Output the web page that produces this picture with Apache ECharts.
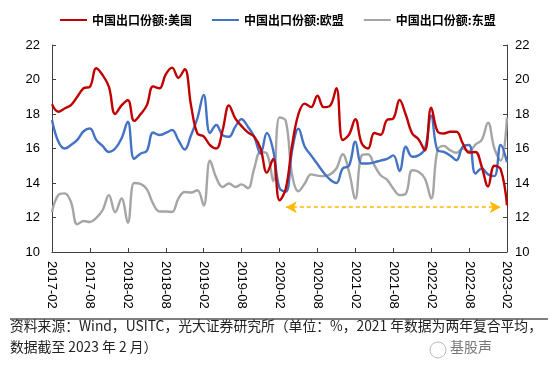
<!DOCTYPE html>
<html><head><meta charset="utf-8">
<script src="https://cdn.jsdelivr.net/npm/echarts@6/dist/echarts.min.js"></script>
<style>html,body{margin:0;padding:0;background:#fff}#c{width:554px;height:367px}</style>
</head><body><div id="c"></div>
<script>
// months 2017-02 .. 2023-02
const months = [];
for (let y = 2017; y <= 2023; y++) for (let m = 1; m <= 12; m++) {
  if ((y === 2017 && m < 2) || (y === 2023 && m > 2)) continue;
  months.push(y + '-' + String(m).padStart(2, '0'));
}
const seriesNames = ['中国出口份额:美国', '中国出口份额:欧盟', '中国出口份额:东盟'];
const usShare = [18.56,18.13,18.32,18.52,19.0,19.49,19.58,20.65,20.26,19.58,
  18.0,18.5,18.8,17.6,17.98,18.5,19.6,19.49,20.3,20.69,
  20.1,20.6,18.5,16.87,16.7,16.2,16.0,17.07,18.5,17.74,
  17.3,16.93,16.68,16.0,14.6,15.4,13.0,13.68,16.2,18.0,
  18.6,18.4,19.06,18.4,18.48,19.49,16.49,16.8,17.7,16.3,
  16.0,16.9,16.8,17.65,17.74,18.81,17.94,16.87,16.54,15.9,
  18.36,17.0,16.87,16.97,16.97,16.3,15.77,15.8,14.94,13.8,
  15.0,14.8,12.7];
const euShare = [17.65,16.4,16.0,16.2,16.5,17.0,17.16,16.5,16.15,15.8,
  16.0,16.58,17.55,15.4,15.7,15.86,16.93,16.78,16.9,17.07,
  16.49,15.94,16.77,17.74,19.1,16.9,17.36,16.77,16.68,17.26,
  17.7,17.26,16.68,15.7,16.9,15.9,13.7,13.5,15.9,17.15,
  16.1,15.6,15.1,14.6,14.2,14.0,14.84,15.0,16.4,15.13,
  15.13,15.2,15.3,15.4,15.6,14.7,16.1,15.52,15.6,15.96,
  17.9,15.9,15.8,15.6,15.32,16.1,16.2,14.55,14.84,14.5,
  14.4,16.2,15.2];
const aseanShare = [12.32,13.3,13.4,12.9,11.6,11.8,11.74,11.98,12.42,13.3,
  12.3,13.1,11.7,14.0,13.95,13.65,12.8,12.35,12.35,12.32,
  13.1,13.48,13.45,13.58,12.7,15.3,14.3,13.77,13.97,13.77,
  13.92,13.7,14.84,15.8,15.7,14.1,17.8,17.6,14.45,13.52,
  13.97,14.5,14.43,14.4,14.5,14.84,15.67,14.65,13.1,15.6,
  15.67,15.03,14.45,14.2,13.68,13.3,13.39,14.74,14.65,14.26,
  13.1,15.9,16.15,15.9,15.75,16.0,15.84,16.23,16.5,17.5,
  16.0,15.3,17.8];
const yTicks = [10, 12, 14, 16, 18, 20, 22];
const arrowStart = '2020-03', arrowEnd = '2023-01', arrowLevel = 12.6;
const sourceLines = ['资料来源：Wind，USITC，光大证券研究所（单位：%，2021 年数据为两年复合平均，', '数据截至 2023 年 2 月）'];
const watermark = '基股声';

const colors = ['#C00000', '#4472C4', '#A5A5A5'];
const chart = echarts.init(document.getElementById('c'), null, {renderer: 'canvas'});
const axisCommon = {
  type: 'value', min: yTicks[0], max: yTicks[yTicks.length - 1], interval: yTicks[1] - yTicks[0],
  axisLine: {show: true, lineStyle: {color: '#404040', width: 1}},
  axisTick: {show: true, inside: true, length: 4, lineStyle: {color: '#404040'}},
  splitLine: {show: false},
  axisLabel: {color: '#000', fontSize: 13, fontFamily: 'Liberation Sans'}
};
const mk = (name, data, color, extra) => Object.assign({
  name, type: 'line', data, smooth: 0.4, symbol: 'none', showSymbol: false,
  lineStyle: {color, width: 2.4}, itemStyle: {color}
}, extra || {});
chart.setOption({
  animation: false,
  grid: {left: 52, right: 47, top: 45, bottom: 115, containLabel: false},
  legend: {
    left: 55, top: 9, itemWidth: 27, itemHeight: 2, itemGap: 20, icon: 'rect',
    textStyle: {fontSize: 12, fontWeight: 'bold', color: '#000', fontFamily: 'Noto Sans CJK SC'},
    data: seriesNames
  },
  xAxis: {
    type: 'category', data: months, boundaryGap: false,
    axisLine: {lineStyle: {color: '#404040', width: 1}},
    axisTick: {inside: true, length: 4, interval: 5, lineStyle: {color: '#404040'}},
    axisLabel: {interval: 5, rotate: -90, margin: 9, color: '#000', fontSize: 13, fontFamily: 'Liberation Sans'}
  },
  yAxis: [Object.assign({position: 'left'}, axisCommon, {axisLabel: Object.assign({}, axisCommon.axisLabel, {margin: 12})}),
          Object.assign({position: 'right'}, axisCommon, {axisLabel: Object.assign({}, axisCommon.axisLabel, {margin: 8})})],
  series: [
    mk(seriesNames[0], usShare, colors[0], {z: 3}),
    mk(seriesNames[1], euShare, colors[1], {z: 2}),
    mk(seriesNames[2], aseanShare, colors[2], {z: 1, markLine: {
      silent: true, animation: false, symbol: ['arrow', 'arrow'], symbolSize: [9, 11],
      label: {show: false},
      emphasis: {disabled: true},
      lineStyle: {color: '#FFB800', type: [4, 3], width: 1.5, opacity: 1},
      data: [[{coord: [arrowStart, arrowLevel]}, {coord: [arrowEnd, arrowLevel]}]]
    }})
  ],
  graphic: [
    {type: 'line', shape: {x1: 10, y1: 319, x2: 548, y2: 319}, style: {stroke: '#000', lineWidth: 1.2}},
    {type: 'text', left: 10, top: 319, style: {text: sourceLines[0], font: '13.8px "Noto Sans CJK SC"', fill: '#222'}},
    {type: 'text', left: 10, top: 340, style: {text: sourceLines[1], font: '13.8px "Noto Sans CJK SC"', fill: '#222'}},
    {type: 'circle', shape: {cx: 438, cy: 350, r: 8}, style: {fill: 'none', stroke: '#bbb', lineWidth: 1}},
    {type: 'text', left: 450, top: 340, style: {text: watermark, font: '14px "Noto Sans CJK SC"', fill: '#777'}}
  ]
});
</script></body></html>
